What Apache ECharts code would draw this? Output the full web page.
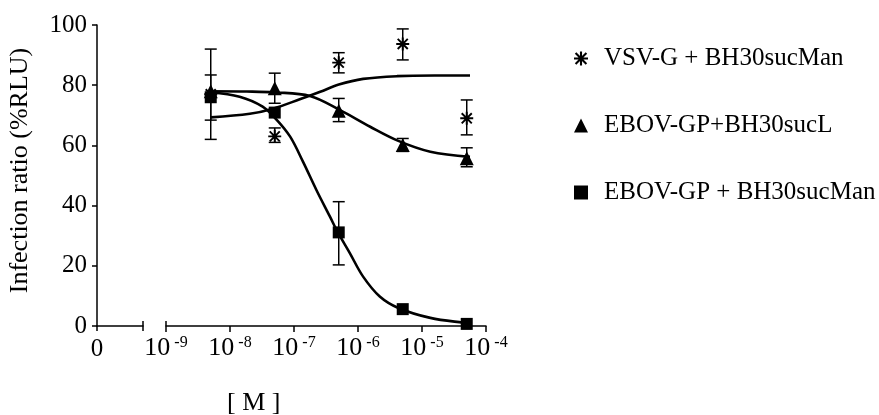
<!DOCTYPE html>
<html>
<head>
<meta charset="utf-8">
<script src="https://cdn.jsdelivr.net/npm/echarts@6/dist/echarts.min.js"></script>
<style>html,body{margin:0;padding:0;background:#fff}#main{width:879px;height:415px}</style>
</head>
<body>
<div id="main"></div>
<script>
// measured points (molar concentration, %RLU)
var conc = [5e-9, 5e-8, 5e-7, 5e-6, 5e-5];
var yTicks = [0, 20, 40, 60, 80, 100];

var vsvMean = [77, 63, 87.5, 93.7, 69];
var vsvLow = [62, 61, 84.1, 88.4, 63.5];
var vsvHigh = [92, 65.8, 90.8, 98.7, 75.1];

var sucLMean = [78, 79, 71.5, 60.1, 55.7];
var sucLLow = [78, 74, 67.9, 58, 52.9];
var sucLHigh = [78, 84, 75.6, 62.3, 59.2];

var manMean = [76, 70.9, 31.1, 5.6, 0.7];
var manLow = [68.4, 70.9, 20.3, 5.6, 0.7];
var manHigh = [83.4, 70.9, 41.3, 5.6, 0.7];

// fitted curves (log10 of concentration, %RLU)
var vsvFitExp = [-8.30, -7.69, -7.33, -6.91, -6.59, -6.30, -5.92, -5.39, -4.80, -4.25];
var vsvFit = [69.3, 70.5, 72.2, 75.3, 77.8, 80.2, 82.1, 83.0, 83.2, 83.2];
var sucLFitExp = [-8.30, -7.74, -7.29, -6.75, -6.28, -5.81, -5.37, -4.87, -4.25];
var sucLFit = [78, 77.9, 77.6, 76.4, 71.7, 66.2, 61.5, 57.9, 56.2];
var manFitExp = [-8.30, -7.85, -7.49, -7.27, -7.06, -6.86, -6.65, -6.44, -6.31, -6.13, -5.92, -5.66, -5.37, -4.87, -4.36, -4.22];
var manFit = [77.6, 76.2, 72.9, 68.5, 62.9, 54.6, 45.2, 36.4, 30.9, 24.3, 16.4, 9.8, 6.0, 2.7, 1.1, 0.9];

var names = ['VSV-G + BH30sucMan', 'EBOV-GP+BH30sucL', 'EBOV-GP + BH30sucMan'];

var FONT = 'Liberation Serif';
var asterisk = 'path://M0 8.5L20 8.5L20 11.5L0 11.5Z M8.5 0L11.5 0L11.5 20L8.5 20Z M1.2 3.3L3.3 1.2L18.8 16.7L16.7 18.8Z M16.7 1.2L18.8 3.3L3.3 18.8L1.2 16.7Z';

function pts(xs, ys) {
  return xs.map(function (x, i) { return [x, ys[i]]; });
}
function curve(exps, ys) {
  return exps.map(function (e, i) { return [Math.pow(10, e), ys[i]]; });
}
function bars(lo, hi) {
  return conc.map(function (x, i) { return [x, lo[i], hi[i]]; });
}

function errorItem(params, api) {
  var x = api.value(0), lo = api.value(1), hi = api.value(2);
  if (hi - lo < 0.5) return null;
  var a = api.coord([x, lo]), b = api.coord([x, hi]);
  var w = 6;
  var st = { stroke: '#000', lineWidth: 1.5 };
  return {
    type: 'group',
    children: [
      { type: 'line', shape: { x1: a[0], y1: a[1], x2: b[0], y2: b[1] }, style: st },
      { type: 'line', shape: { x1: a[0] - w, y1: a[1], x2: a[0] + w, y2: a[1] }, style: st },
      { type: 'line', shape: { x1: b[0] - w, y1: b[1], x2: b[0] + w, y2: b[1] }, style: st }
    ]
  };
}

var chart = echarts.init(document.getElementById('main'));

var lineStyle = { color: '#000', width: 2.6 };

var option = {
  animation: false,
  backgroundColor: '#fff',
  textStyle: { fontFamily: FONT, color: '#000' },
  title: {
    text: '[ M ]',
    left: 222,
    top: 385,
    textStyle: { fontFamily: FONT, fontSize: 26, fontWeight: 'normal', color: '#000' }
  },
  legend: {
    orient: 'vertical',
    left: 569,
    top: 41,
    itemGap: 42,
    itemWidth: 14,
    itemHeight: 14,
    textStyle: { fontFamily: FONT, fontSize: 25, color: '#000', padding: [0, 0, 0, 11] },
    data: [
      { name: names[0], icon: asterisk },
      { name: names[1], icon: 'triangle' },
      { name: names[2], icon: 'rect' }
    ]
  },
  grid: [
    { left: 97, right: 736, top: 25, bottom: 89 },
    { left: 166, right: 393, top: 25, bottom: 89 }
  ],
  xAxis: [
    {
      gridIndex: 0, type: 'value', min: 0, max: 1, interval: 1,
      axisLine: { lineStyle: { color: '#000', width: 1.5 } },
      axisTick: { length: 5, lineStyle: { color: '#000', width: 1.5 } },
      axisLabel: {
        margin: 11, fontFamily: FONT, fontSize: 25, color: '#000',
        formatter: function (v) { return v === 0 ? '0' : ''; }
      },
      splitLine: { show: false }
    },
    {
      gridIndex: 0, type: 'value', min: 0, max: 1, position: 'bottom',
      axisLine: { show: false },
      axisTick: { inside: true, length: 5, customValues: [1], lineStyle: { color: '#000', width: 1.5 } },
      axisLabel: { show: false },
      splitLine: { show: false }
    },
    {
      gridIndex: 1, type: 'log', logBase: 10, min: 1e-9, max: 1e-4,
      axisLine: { lineStyle: { color: '#000', width: 1.5 } },
      axisTick: { length: 6, lineStyle: { color: '#000', width: 1.5 } },
      minorTick: { show: false },
      axisLabel: {
        margin: 9,
        formatter: function (v) {
          var e = Math.round(Math.log10(v));
          return '{b|10}{s|' + e + '}';
        },
        rich: {
          b: { fontFamily: FONT, fontSize: 26, color: '#000' },
          s: { fontFamily: FONT, fontSize: 16, color: '#000', padding: [0, 0, 11, 4] }
        }
      },
      splitLine: { show: false }
    },
    {
      gridIndex: 1, type: 'log', logBase: 10, min: 1e-9, max: 1e-4, position: 'bottom',
      axisLine: { show: false },
      axisTick: { inside: true, length: 5, customValues: [1e-9], lineStyle: { color: '#000', width: 1.5 } },
      axisLabel: { show: false },
      splitLine: { show: false }
    }
  ],
  yAxis: [
    {
      gridIndex: 0, type: 'value', min: 0, max: 100, interval: 20,
      name: 'Infection ratio (%RLU)',
      nameLocation: 'middle',
      nameGap: 64,
      nameTextStyle: { fontFamily: FONT, fontSize: 26, color: '#000', padding: [0, 0, 0, 10] },
      axisLine: { show: true, lineStyle: { color: '#000', width: 1.5 } },
      axisTick: { show: true, length: 5, lineStyle: { color: '#000', width: 1.5 } },
      axisLabel: {
        margin: 10, fontFamily: FONT, fontSize: 25, color: '#000',
        customValues: yTicks
      },
      splitLine: { show: false }
    },
    {
      gridIndex: 1, type: 'value', min: 0, max: 100, show: false,
      splitLine: { show: false }
    }
  ],
  series: [
    {
      name: 'fit1', type: 'line', xAxisIndex: 2, yAxisIndex: 1,
      data: curve(vsvFitExp, vsvFit), smooth: 0.35, showSymbol: false,
      lineStyle: lineStyle, silent: true
    },
    {
      name: 'fit2', type: 'line', xAxisIndex: 2, yAxisIndex: 1,
      data: curve(sucLFitExp, sucLFit), smooth: 0.35, showSymbol: false,
      lineStyle: lineStyle, silent: true
    },
    {
      name: 'fit3', type: 'line', xAxisIndex: 2, yAxisIndex: 1,
      data: curve(manFitExp, manFit), smooth: 0.35, showSymbol: false,
      lineStyle: lineStyle, silent: true
    },
    {
      name: 'err1', type: 'custom', xAxisIndex: 2, yAxisIndex: 1,
      renderItem: errorItem, data: bars(vsvLow, vsvHigh), z: 3
    },
    {
      name: 'err2', type: 'custom', xAxisIndex: 2, yAxisIndex: 1,
      renderItem: errorItem, data: bars(sucLLow, sucLHigh), z: 3
    },
    {
      name: 'err3', type: 'custom', xAxisIndex: 2, yAxisIndex: 1,
      renderItem: errorItem, data: bars(manLow, manHigh), z: 3
    },
    {
      name: names[0], type: 'scatter', xAxisIndex: 2, yAxisIndex: 1,
      data: pts(conc, vsvMean), symbol: asterisk, symbolSize: 13,
      itemStyle: { color: '#000', opacity: 1 }, z: 4
    },
    {
      name: names[1], type: 'scatter', xAxisIndex: 2, yAxisIndex: 1,
      data: pts(conc, sucLMean), symbol: 'triangle', symbolSize: 14,
      itemStyle: { color: '#000', opacity: 1 }, z: 4
    },
    {
      name: names[2], type: 'scatter', xAxisIndex: 2, yAxisIndex: 1,
      data: pts(conc, manMean), symbol: 'rect', symbolSize: 12,
      itemStyle: { color: '#000', opacity: 1 }, z: 5
    }
  ]
};

chart.setOption(option);
</script>
</body>
</html>
